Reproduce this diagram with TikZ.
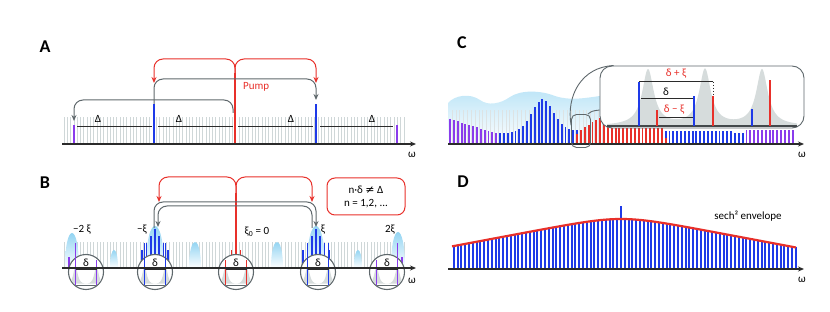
\documentclass[tikz,border=0pt]{standalone}
\usepackage{fontspec}
\setmainfont{Carlito}
\newfontfamily\symfont{DejaVu Sans}
\usetikzlibrary{arrows.meta, calc}
\definecolor{cred}{HTML}{E8302A}
\definecolor{cblue}{HTML}{1E3AE8}
\definecolor{cpurple}{HTML}{8A3CEC}
\definecolor{cgrey}{HTML}{5F686C}
\definecolor{ccomb}{HTML}{CFD7D8}
\definecolor{csky}{HTML}{6FC6EE}
\definecolor{cshade}{HTML}{D6DCDC}
\definecolor{cink}{HTML}{2B2B2B}
\tikzset{
  every picture/.style={x=1pt, y=-1pt},
  panel/.style={font=\fontsize{18}{18}\selectfont\bfseries, inner sep=0pt},
  lbl/.style={font=\fontsize{11}{13}\selectfont, inner sep=1pt},
  axis/.style={draw=cink, line width=1.2pt, -{Stealth[length=6pt, width=5pt]}},
  comb/.style={draw=ccomb, line width=0.7pt},
  tooth/.style={draw=#1, line width=1.7pt},
  bar/.style={draw=#1, line width=1.9pt},
  hop/.style={draw=#1, line width=1pt, rounded corners=9pt, -{Stealth[length=6pt, width=5pt]}},
  span/.style={draw=cink, line width=1pt},
  lens/.style={circle, draw=cgrey, fill=white, line width=1.1pt, minimum size=35pt, inner sep=0pt},
  declare function={sechdb(\d)=50-6.4*(abs(\d)/34+ln(1+exp(0-min(2*abs(\d)/34,20)))-ln(2));
                    lor(\u)=1/(1+(\u)^2);},
}
\newcommand{\skybump}[4]{% x, top, half width, base
  \shade[top color=csky, bottom color=white] ({#1-#3},#4) .. controls ({#1-#3},{#4-(#4-#2)*4/3}) and ({#1+#3},{#4-(#4-#2)*4/3}) .. ({#1+#3},#4) -- cycle;}

\begin{document}
\begin{tikzpicture}
  \useasboundingbox (0,0) rectangle (830,312);
  % ---------- panel A
  \node[panel] (labA) at (45,47) {A};
  \foreach \i in {0,...,103} \draw[comb] ({64+3.3*\i},144) -- ++(0,-27);
  \foreach \a/\b in {77/152, 158/233, 238/313, 320/393} \draw[span] (\a,127) -- (\b,127);
  \foreach \x/\n in {98/1, 179/2, 291/3, 372/4} \node[lbl] (gapA\n) at (\x,119) {Δ};
  \coordinate (pumpA) at (235,73);
  \coordinate (tipA) at (74,121);
  \draw[tooth=cpurple] (74,144) -- (74,125);
  \draw[tooth=cpurple] (397,144) -- (397,125);
  \draw[tooth=cblue] (154,144) -- (154,104) coordinate (sigA);
  \draw[tooth=cblue] (316,144) -- (316,104) coordinate (idlA);
  \draw[tooth=cred] (235,144) -- (pumpA);
  \draw[hop=cred] (pumpA) -- ++(0,-14) -| ([yshift=21pt]sigA);
  \draw[hop=cred] (pumpA) -- ++(0,-14) -| ([yshift=21pt]idlA);
  \draw[hop=cgrey] (sigA) -- ++(0,-25) -| ([yshift=4pt]idlA);
  \draw[hop=cgrey] (233,113) -- (233,100) -| (tipA);
  \node[lbl, text=cred, anchor=west] (pumpLbl) at (242,87) {Pump};
  \draw[axis] (62,144) -- (416,144);
  \node[lbl] (omA) at (412,155) {ω};
  % ---------- panel B
  \node[panel] (labB) at (45,183) {B};
  \foreach \i in {0,...,103} \draw[comb] ({64+3.3*\i},268) -- ++(0,-26);
  \foreach \x/\t/\w in {72/233/7, 114/250/4, 155/226/9, 195/242/6, 277/242/6, 316/226/9, 358/250/4, 398/232/7}
    \skybump{\x}{\t}{\w}{268};
  \coordinate (pumpB) at (236,193);
  \draw[tooth=cred] (236,268) -- (pumpB);
  \foreach \x in {231.5,240.5} \draw[tooth=cred] (\x,268) -- (\x,250);
  \foreach \c in {155,316} \foreach \k in {-3,...,3}
    \draw[tooth=cblue] ({\c+4.3*\k},268) -- ({\c+4.3*\k},{229+7*abs(\k)});
  \draw[tooth=cpurple] (69,268) -- (69,257);
  \draw[tooth=cpurple] (401.7,268) -- (401.7,257);
  \draw[hop=cred] (pumpB) -- ++(0,-16) -| (159,202);
  \draw[hop=cred] (pumpB) -- ++(0,-16) -| (312,202);
  \draw[hop=cgrey] (154,228) -- (154,202) -| (316,227);
  \draw[hop=cgrey] (312,228) -- (312,206) -| (158,227);
  \foreach \c/\col/\lt/\rt in {86/cpurple/243/260, 155/cblue/243/243, 236/cred/260/260, 318/cblue/243/243, 387/cpurple/260/243} {
    \node[lens] (lens\c) at (\c,272) {};
    \begin{scope}
      \clip (lens\c.center) circle (16.8);
      \fill[cshade] plot[domain=\c-18:\c+18, samples=80] (\x, {286-20*lor((\x-\c+10.5)/2.6)-20*lor((\x-\c-10.5)/2.6)}) -- cycle;
      \draw[cgrey, line width=1.8pt] (\c-18,285.5) -- (\c+18,285.5);
    \end{scope}
    \draw[tooth=\col] (\c-10.5,285) -- (\c-10.5,\lt);
    \draw[tooth=\col] (\c+10.5,285) -- (\c+10.5,\rt);
    \draw[span] (\c-10.5,270) -- (\c+10.5,270);
    \node[lbl] (dlt\c) at (\c,263) {δ};
  }
  \node[lbl] (xiM2) at (82,230) {−2 ξ};
  \node[lbl] (xiM1) at (142,230) {−ξ};
  \node[lbl] (xiZero) at (257,232) {ξ\textsubscript{0} = 0};
  \node[lbl] (xiP1) at (323,230) {ξ};
  \node[lbl] (xiP2) at (390,230) {2ξ};
  \node[draw=cred, rounded corners=8pt, line width=1pt, minimum width=78pt, minimum height=37pt, align=center, lbl] (condBox) at (366,196.5) {n·δ {\symfont ≠} Δ\\n = 1,2, ...};
  \draw[axis] (62,268) -- (416,268);
  \node[lbl] (omB) at (412,281) {ω};
  % ---------- panel C
  \node[panel] (labC) at (462,43) {C};
  \shade[top color=csky!45, bottom color=white] (448,144) -- (448,103) .. controls (455,95) and (470,93) .. (480,100)
    .. controls (488,106) and (500,104) .. (510,97) .. controls (520,90) and (540,90) .. (555,96)
    .. controls (570,101) and (585,98) .. (600,96) -- (600,144) -- cycle;
  \foreach \i in {0,...,39} \draw[comb, draw=ccomb!70] ({452+3.85*\i},144) -- ++(0,-34);
  \foreach \i in {0,...,12} \draw[bar=cpurple] ({450+3.85*\i},144) -- ++(0,{-(25-1.2*\i)});
  \foreach \i in {13,...,33} \draw[bar=cblue] ({450+3.85*\i},144) -- ++(0,{-(11+0.15*(\i-13)+32*exp(0-((\i-24)/3.92)^2))});
  \foreach \i in {34,...,55} \draw[bar=cred] ({450+3.85*\i},144) -- ++(0,{-min(14+2.5*(\i-34),26)});
  \foreach \i in {56,...,73} \draw[bar=cblue] ({450+3.85*\i},144) -- ++(0,-13);
  \foreach \i in {74,...,76} \draw[bar=cblue] ({450+3.85*\i},144) -- ++(0,-11);
  \foreach \i in {77,...,89} \draw[bar=cpurple] ({450+3.85*\i},144) -- ++(0,-14);
  \draw[bar=cred] ({450+3.85*33},144) -- ++(0,-10);
  \draw[bar=cred] ({450+3.85*56},144) -- ++(0,-6);
  \draw[axis] (448,144) -- (804,144);
  \node[lbl] (omC) at (802,155) {ω};
  \node[draw=cgrey, rounded corners=5pt, line width=0.9pt, minimum width=19pt, minimum height=33pt, inner sep=0pt] (spot) at (581,131) {};
  \node[draw=cgrey, fill=white, rounded corners=12pt, line width=0.9pt, minimum width=204pt, minimum height=62pt, inner sep=0pt] (inset) at (702,97) {};
  \draw[cgrey, line width=0.9pt] (spot.150) .. controls (566,95) and (582,67) .. ([xshift=14pt]inset.north west);
  \draw[cgrey, line width=0.9pt] ([xshift=-3pt]spot.north east) .. controls (592,111) .. ([yshift=-13pt]inset.west);
  \begin{scope}
    \clip[rounded corners=12pt] (inset.north west) rectangle (inset.south east);
    \fill[cshade] (607,126) -- plot[domain=607:797, samples=240] (\x, {126-56*(lor((\x-648)/7)+lor((\x-705)/7)+lor((\x-762)/7))}) -- (797,126) -- cycle;
  \end{scope}
  \draw[cgrey!70!black, line width=1.6pt] (607,126) -- (797,126);
  \draw[tooth=cblue] (639,126) -- (639,82) coordinate (sigC);
  \draw[tooth=cred] (657,126) -- (657,110) coordinate (idlC);
  \draw[tooth=cblue] (694,126) -- (694,96) coordinate (sigCb);
  \draw[tooth=cred] (713,126) -- (713,96) coordinate (idlCb);
  \draw[tooth=cblue] (752,126) -- (752,109);
  \draw[tooth=cred] (770,126) -- (770,80);
  \draw[span] (sigC) -- (713,82) coordinate (sumEnd);
  \draw[span, dotted] (sumEnd) -- (idlCb);
  \draw[span] (641,99) -- (693,99);
  \draw[span] (659,118) -- (693,118);
  \node[lbl, text=cred] (sumLbl) at (676,74) {δ + ξ};
  \node[lbl] (dltC) at (666,92) {δ};
  \node[lbl, text=cred] (difLbl) at (674,110) {δ − ξ};
  % ---------- panel D
  \node[panel] (labD) at (463,182) {D};
  \foreach \i in {0,...,90} \draw[bar=cblue] ({453.8+3.8*\i},269) -- ++(0,{-sechdb(453.8+3.8*\i-621)});
  \draw[bar=cblue] (621,269) -- (621,206) coordinate (peakD);
  \draw[cred, line width=2.2pt] plot[domain=452:796, samples=120] (\x, {269-sechdb(\x-621)});
  \node[lbl] (envLbl) at (748,216) {sech² envelope};
  \draw[axis] (448,269) -- (804,269);
  \node[lbl] (omD) at (802,280) {ω};
\end{tikzpicture}
\end{document}
